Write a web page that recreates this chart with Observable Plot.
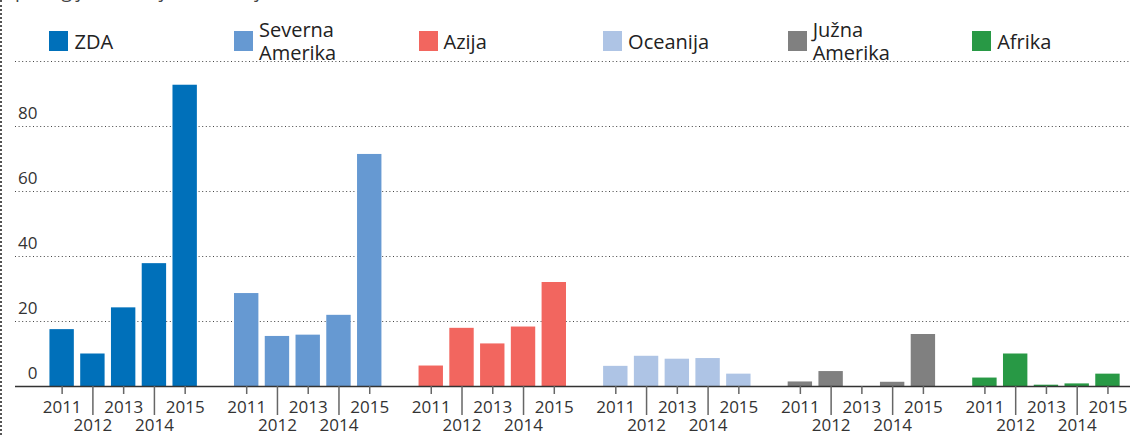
<!DOCTYPE html>
<html><head><meta charset="utf-8">
<script src="https://cdn.jsdelivr.net/npm/d3@7"></script>
<script src="https://cdn.jsdelivr.net/npm/@observablehq/plot@0.6"></script>
<style>
body{margin:0;background:#fff;font-family:"Open Sans",sans-serif;}
#wrap{position:relative;width:1130px;height:435px;overflow:hidden;}
#border{position:absolute;left:0;top:0;bottom:0;border-left:2px dotted #555;}
#sub{position:absolute;left:15px;top:-19px;font-size:19px;line-height:20px;color:#444;white-space:nowrap;}
#legend{position:relative;height:58px;}
.item{position:absolute;top:0;}
.sw{position:absolute;top:31px;left:0;width:19px;height:20px;}
.lab{position:absolute;left:25px;font-size:20px;line-height:23px;color:#222;white-space:pre;}
svg{display:block;}
</style></head>
<body><div id="wrap"><div id="sub"></div><div id="legend"></div><div id="chart"></div><div id="border"></div></div>
<script>
const groups = ["ZDA","Severna Amerika","Azija","Oceanija","Južna Amerika","Afrika"];
const legendLabels = ["ZDA","Severna\nAmerika","Azija","Oceanija","Južna\nAmerika","Afrika"];
const colors = ["#0070ba","#6699d2","#f2665f","#aec4e5","#808080","#289945"];
const years = ["2011","2012","2013","2014","2015"];
const zda = [17.5,10,24.2,37.8,92.7];
const severna = [28.6,15.4,15.8,21.9,71.4];
const azija = [6.3,17.9,13.1,18.3,32.0];
const oceanija = [6.2,9.3,8.4,8.6,3.8];
const juzna = [1.4,4.6,0,1.3,16.0];
const afrika = [2.6,10.0,0.4,0.8,3.8];
const yTicks = [0,20,40,60,80];
const gridTicks = [20,40,60,80,100];
const subtitle = "po regijah, v milijonih dolarjev";

const series = [zda, severna, azija, oceanija, juzna, afrika];
const data = [];
const domain = [];
groups.forEach((g, gi) => {
  if (gi > 0) domain.push("gap" + gi);
  years.forEach((yr, yi) => {
    const key = g + "|" + yr;
    domain.push(key);
    data.push({group: g, year: yr, key, value: series[gi][yi]});
  });
});
const oddKeys = data.filter(d => (+d.year) % 2 === 1).map(d => d.key);
const evenKeys = data.filter(d => (+d.year) % 2 === 0).map(d => d.key);
const fmt = d => d.split("|")[1];

const plot = Plot.plot({
  width: 1130,
  height: 377,
  marginLeft: 15,
  marginRight: 0,
  marginTop: 3,
  marginBottom: 49,
  style: {fontFamily: "'Open Sans', sans-serif", fontSize: "17px", color: "#333", background: "transparent"},
  x: {domain, round: false, paddingInner: 0.207, paddingOuter: 0.728, align: 0.769, label: null},
  y: {domain: [0, 100], label: null},
  color: {domain: groups, range: colors},
  marks: [
    Plot.ruleY(gridTicks, {stroke: "#444", strokeWidth: 1, strokeDasharray: "1,2.6"}),
    Plot.barY(data, {x: "key", y: "value", fill: "group"}),
    Plot.ruleY([0], {stroke: "#333", strokeWidth: 1.5}),
    Plot.axisY(yTicks, {anchor: "left", tickSize: 0, tickPadding: 0, dx: 22, dy: -13, textAnchor: "end", label: null, fontFamily: "'Liberation Sans Narrow', 'Open Sans', sans-serif", fontSize: 17, fill: "#333"}),
    Plot.axisX(oddKeys, {anchor: "bottom", tickSize: 8, tickPadding: 6, tickFormat: fmt, stroke: "#666", strokeWidth: 1.5, fill: "#333", label: null}),
    Plot.axisX(evenKeys, {anchor: "bottom", tickSize: 29, tickPadding: 3, tickFormat: fmt, stroke: "#666", strokeWidth: 1.5, fill: "#333", label: null})
  ]
});
document.getElementById("chart").appendChild(plot);

document.getElementById("sub").textContent = subtitle;
const xs = plot.scale("x");
const legend = document.getElementById("legend");
groups.forEach((g, i) => {
  const item = document.createElement("div");
  item.className = "item";
  item.style.left = xs.apply(g + "|2011") + "px";
  const sw = document.createElement("div");
  sw.className = "sw";
  sw.style.background = colors[i];
  const lab = document.createElement("div");
  lab.className = "lab";
  lab.textContent = legendLabels[i];
  const lines = legendLabels[i].split("\n").length;
  lab.style.top = (41 - lines * 11.5) + "px";
  item.appendChild(sw);
  item.appendChild(lab);
  legend.appendChild(item);
});
</script>
</body></html>
